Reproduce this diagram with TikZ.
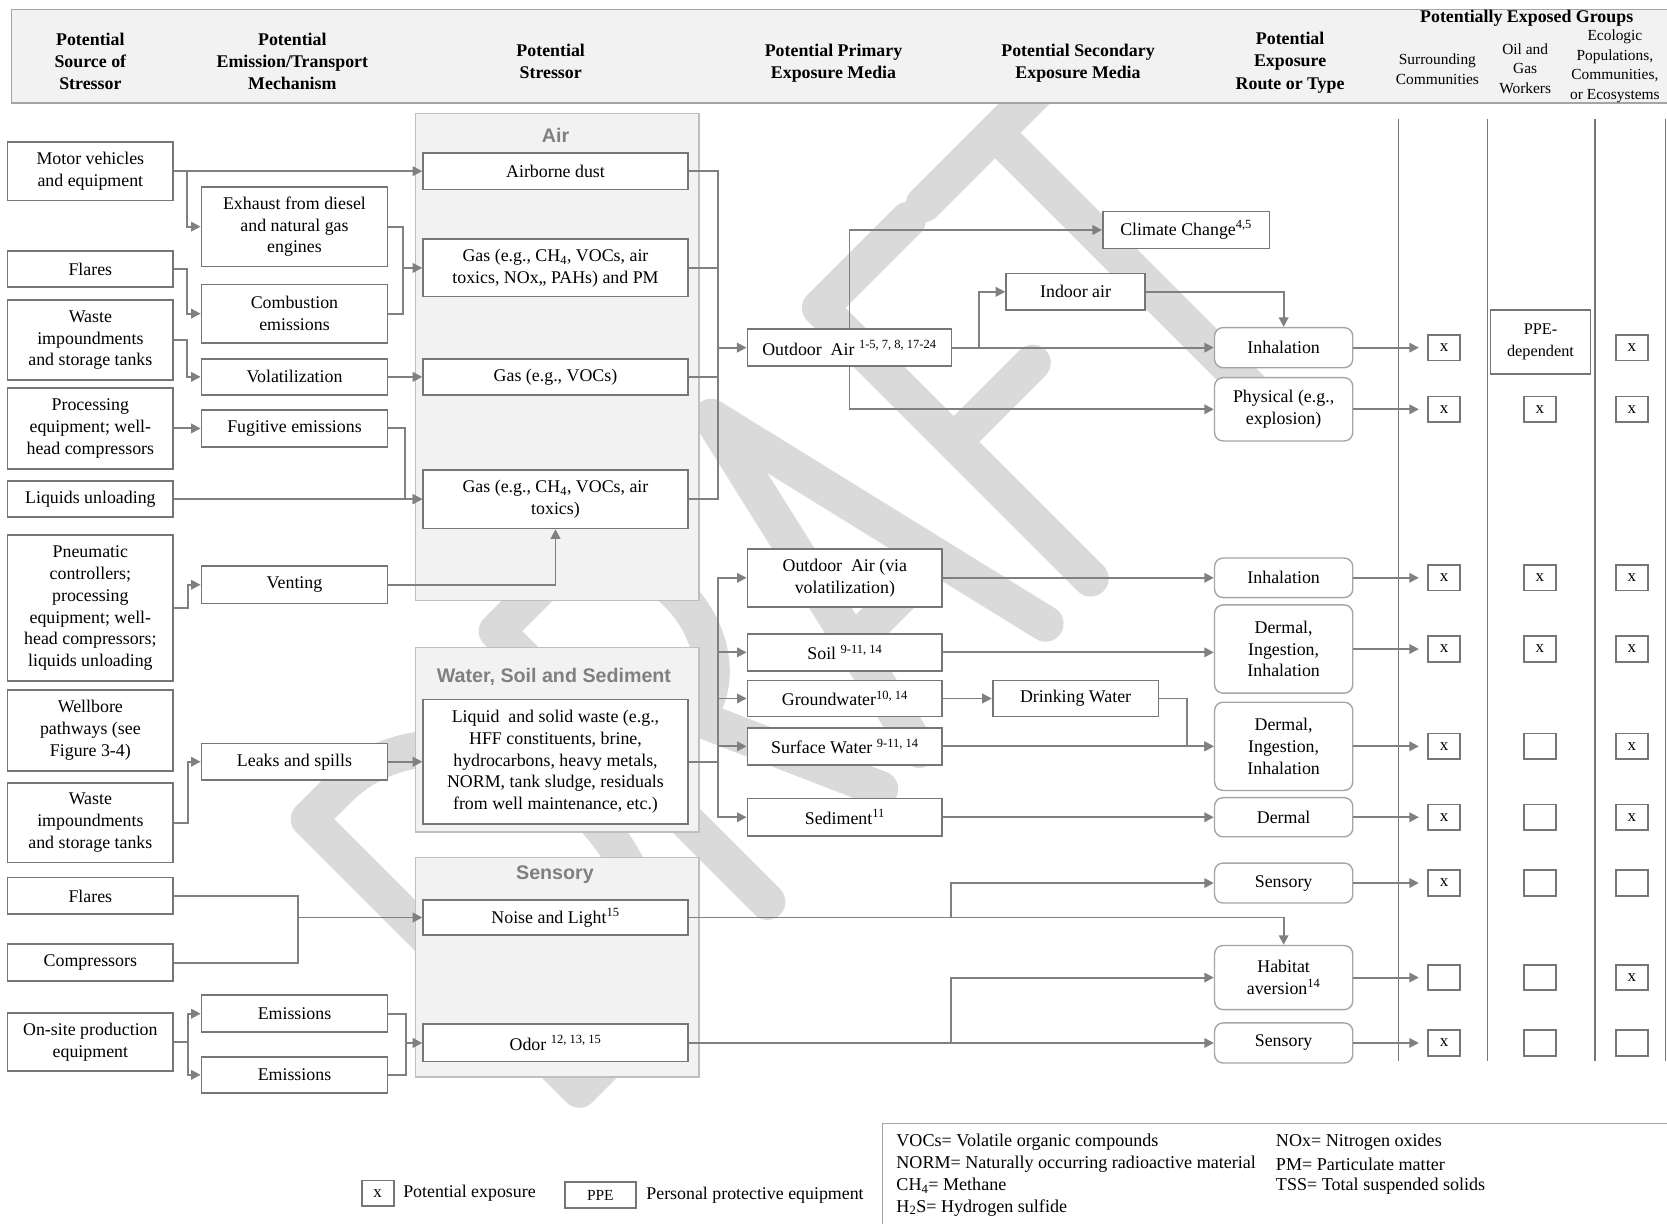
\documentclass[tikz,border=0pt]{standalone}
\usepackage{fontspec}
\setmainfont{Liberation Serif}
\newfontfamily\titlefont{Liberation Sans}
\usetikzlibrary{arrows.meta,positioning,calc}
\definecolor{linegray}{RGB}{128,128,128}
\definecolor{boxgray}{RGB}{118,118,118}
\definecolor{roundgray}{RGB}{165,165,165}
\definecolor{panelfill}{RGB}{242,242,242}
\definecolor{panelline}{RGB}{191,191,191}
\definecolor{wmark}{RGB}{218,218,218}
\newcommand{\bodysize}{\fontsize{16.8}{20.5}\selectfont}
\newcommand{\smallsize}{\fontsize{14.5}{18.3}\selectfont}
\newcommand{\sups}[1]{\textsuperscript{#1}}

\begin{document}
\begin{tikzpicture}[x=1pt,y=-1pt,
  box/.style={draw=boxgray,line width=1.6pt,fill=white,align=center,inner sep=0pt,font=\bodysize},
  src/.style={box,minimum width=156,minimum height=#1},
  mech/.style={box,minimum width=175,minimum height=#1},
  stress/.style={box,minimum width=249,minimum height=#1},
  prim/.style={box,minimum width=183.3,minimum height=#1},
  route/.style={box,draw=roundgray,line width=1.3pt,rounded corners=8pt,minimum width=130,minimum height=#1},
  xbox/.style={box,minimum width=30,minimum height=24,font=\fontsize{16}{18}\selectfont},
  panel/.style={draw=panelline,line width=1pt,fill=panelfill,inner sep=0pt},
  ptitle/.style={font=\titlefont\bfseries\fontsize{18.5}{22}\selectfont,text=linegray},
  head/.style={align=center,font=\bfseries\fontsize{16.8}{20.7}\selectfont},
  grouptext/.style={align=center,font=\smallsize},
  abbr/.style={anchor=west,inner sep=0pt,font=\fontsize{17}{20}\selectfont},
  link/.style={draw=linegray,line width=1.8pt},
  conn/.style={link,-{Triangle[length=9pt,width=9pt]}},
  wm/.style={draw=wmark,line width=34pt,line cap=round,line join=round}
]
\useasboundingbox (0,0) rectangle (1568,1151);

\begin{scope}[shift={(545,1025)},x={(0.7071pt,0.7071pt)},y={(-0.7071pt,0.7071pt)}]
  \draw[wm] (0,0) -- (0,360) -- (40,360) arc[start angle=90,end angle=-90,x radius=150,y radius=180] -- cycle;
  \draw[wm] (250,0) -- (250,360) -- (320,360) arc[start angle=90,end angle=-90,x radius=75,y radius=95] -- (250,170);
  \draw[wm] (325,170) -- (400,0);
  \draw[wm] (452,0) -- (535,360) -- (620,0);
  \draw[wm] (480,115) -- (592,115);
  \draw[wm] (797,360) -- (680,360) -- (680,0);
  \draw[wm] (680,182) -- (785,182);
  \draw[wm] (818,360) -- (1018,360);
  \draw[wm] (913,360) -- (913,8);
\end{scope}

\draw[fill=panelfill,draw=roundgray,line width=1.2pt] (11,9) rectangle (1590,97);
\node[head] (hsrc) at (85,58) {Potential\\Source of\\Stressor};
\node[head] (hemis) at (275,58) {Potential\\Emission/Transport\\Mechanism};
\node[head] (hstress) at (518,57.5) {Potential\\Stressor};
\node[head] (hprim) at (784,59.5) {Potential Primary\\Exposure Media};
\node[head] (hsec) at (1014,59.5) {Potential Secondary\\Exposure Media};
\node[head] (hroute) at (1213.5,59) {Potential\\Exposure\\Route or Type};
\node[head] (hgroups) at (1436,17) {Potentially Exposed Groups};
\node[grouptext] (hcomm) at (1352,65.2) {Surrounding\\Communities};
\node[grouptext] (hwork) at (1434.6,64.5) {Oil and\\Gas\\Workers};
\node[grouptext] (heco) at (1519,62.3) {Ecologic\\Populations,\\Communities,\\or Ecosystems};

\foreach \gx in {1315.5,1399,1500.2,1566.5}
  \draw[draw=boxgray,line width=1.3pt] (\gx,112) -- (\gx,998);

\node[panel,minimum width=267,minimum height=457.8] (airpanel) at (524,335.5) {};
\node[panel,minimum width=267,minimum height=173.9] (waterpanel) at (524,695.6) {};
\node[panel,minimum width=267,minimum height=206] (senspanel) at (524,910) {};
\node[ptitle] (airtitle) at (522.6,127) {Air};
\node[ptitle] (watertitle) at (521,636.5) {Water, Soil and Sediment};
\node[ptitle] (senstitle) at (522,823) {Sensory};

\node[src=55] (motor) at (85,161) {Motor vehicles\\and equipment};
\node[src=34] (flares) at (85,253) {Flares};
\node[src=75] (waste) at (85,320) {Waste\\impoundments\\and storage tanks};
\node[src=76] (proc) at (85,403) {Processing\\equipment; well-\\head compressors};
\node[src=34] (liq) at (85,469.5) {Liquids unloading};
\node[src=137] (pneu) at (85,572) {Pneumatic\\controllers;\\processing\\equipment; well-\\head compressors;\\liquids unloading};
\node[src=76] (well) at (85,687) {Wellbore\\pathways (see\\Figure 3-4)};
\node[src=75] (waste2) at (85,773.7) {Waste\\impoundments\\and storage tanks};
\node[src=34.5] (flares2) at (85,842.7) {Flares};
\node[src=35] (compr) at (85,905.5) {Compressors};
\node[src=55] (onsite) at (85,980) {On-site production\\equipment};

\node[mech=75] (exhaust) at (277,213.2) {Exhaust from diesel\\and natural gas\\engines};
\node[mech=55] (comb) at (277,295) {Combustion\\emissions};
\node[mech=34] (volat) at (277,354.5) {Volatilization};
\node[mech=34.5] (fugit) at (277,403) {Fugitive emissions};
\node[mech=35.5] (vent) at (277,550) {Venting};
\node[mech=34.5] (leaks) at (277,716.5) {Leaks and spills};
\node[mech=35] (em1) at (277,953.5) {Emissions};
\node[mech=34] (em2) at (277,1011) {Emissions};

\node[stress=34.7] (dust) at (522.5,161) {Airborne dust};
\node[stress=54] (gaspm) at (522.5,252) {Gas (e.g., CH\textsubscript{4}, VOCs, air\\toxics, NOx,, PAHs) and PM};
\node[stress=33.5] (gasvoc) at (522.5,354.5) {Gas (e.g., VOCs)};
\node[stress=55] (gastox) at (522.5,469.5) {Gas (e.g., CH\textsubscript{4}, VOCs, air\\toxics)};
\node[stress=117] (liquid) at (522.5,716.5) {Liquid~ and solid waste (e.g.,\\HFF constituents, brine,\\hydrocarbons, heavy metals,\\NORM, tank sludge, residuals\\from well maintenance, etc.)};
\node[stress=33.5] (noise) at (522.5,863) {Noise and Light\sups{15}};
\node[stress=35] (odor) at (522.5,981) {Odor \sups{12, 13, 15}};

\node[box,minimum width=192,minimum height=34.6] (outdoor) at (799,327) {Outdoor~ Air \sups{1-5, 7, 8, 17-24}};
\node[prim=54.4] (outvia) at (794.7,543.5) {Outdoor~ Air (via\\volatilization)};
\node[prim=35] (soil) at (794.7,613.6) {Soil \sups{9-11, 14}};
\node[prim=33.6] (gw) at (794.7,657) {Groundwater\sups{10, 14}};
\node[prim=35] (sw) at (794.7,702) {Surface Water \sups{9-11, 14}};
\node[prim=35] (sed) at (794.7,768.7) {Sediment\sups{11}};

\node[box,minimum width=156.7,minimum height=34.6] (climate) at (1115.7,216.3) {Climate Change\sups{4,5}};
\node[box,minimum width=130.7,minimum height=34.6] (indoor) at (1011.7,274.5) {Indoor air};
\node[box,minimum width=156,minimum height=33.6] (dw) at (1011.7,657) {Drinking Water};

\node[route=37.7] (inh1) at (1207.4,327) {Inhalation};
\node[route=59.5] (phys) at (1207.4,385) {Physical (e.g.,\\explosion)};
\node[route=37.2] (inh2) at (1207.4,543.5) {Inhalation};
\node[route=83] (dii1) at (1207.4,610.5) {Dermal,\\Ingestion,\\Inhalation};
\node[route=83] (dii2) at (1207.4,702) {Dermal,\\Ingestion,\\Inhalation};
\node[route=36.8] (derm) at (1207.4,768.7) {Dermal};
\node[route=37.6] (sens1) at (1207.4,830.6) {Sensory};
\node[route=60.3] (hab) at (1207.4,919.5) {Habitat\\aversion\sups{14}};
\node[route=37.7] (sens2) at (1207.4,981) {Sensory};

\foreach \r/\ry/\m in {a/327/x,b/385/x,c/543.5/x,d/610.5/x,e/702/x,f/768.7/x,g/830.6/x,h/919.5/{},i/981/x}
  \node[xbox] (c1\r) at (1358.4,\ry) {\m};
\foreach \r/\ry/\m in {b/385/x,c/543.5/x,d/610.5/x,e/702/{},f/768.7/{},g/830.6/{},h/919.5/{},i/981/{}}
  \node[xbox] (c2\r) at (1448.5,\ry) {\m};
\foreach \r/\ry/\m in {a/327/x,b/385/x,c/543.5/x,d/610.5/x,e/702/x,f/768.7/x,g/830.6/{},h/919.5/x,i/981/{}}
  \node[xbox] (c3\r) at (1535,\ry) {\m};
\node[box,minimum width=94.3,minimum height=60.2,font=\fontsize{15.3}{20}\selectfont] (ppe) at (1449,321.7) {PPE-\\dependent};

\coordinate (ecj) at (379,252);
\coordinate (fcj) at (280,863);
\coordinate (emj) at (382,981);
\coordinate (airbus) at (675,327);
\coordinate (wbus) at (675,716.5);

\draw[conn] (motor.east) -- (dust.west);
\draw[conn] (motor.east) -- ++(12,0) |- (exhaust.west);
\draw[conn] (flares.east) -- ++(12,0) |- (comb.west);
\draw[conn] (waste.east) -- ++(12,0) |- (volat.west);
\draw[conn] (proc.east) -- (fugit.west);
\draw[conn] (liq.east) -- (gastox.west);
\draw[conn] (pneu.east) -- ++(13,0) |- (vent.west);
\draw[conn] (waste2.east) -- ++(13,0) |- (leaks.west);
\draw[link] (flares2.east) -| (fcj) |- (compr.east);
\draw[conn] (fcj) -- (noise.west);
\draw[conn] (onsite.east) -- ++(13,0) |- (em1.west);
\draw[conn] (onsite.east) -- ++(13,0) |- (em2.west);
\draw[link] (em1.east) -| (emj) |- (em2.east);
\draw[conn] (emj) -- (odor.west);
\draw[link] (exhaust.east) -| (ecj) |- (comb.east);
\draw[conn] (ecj) -- (gaspm.west);
\draw[conn] (volat.east) -- (gasvoc.west);
\draw[conn] (fugit.east) -- ++(16,0) |- (gastox.west);
\draw[conn] (vent.east) -| (gastox.south);
\draw[conn] (leaks.east) -- (liquid.west);

\draw[link] (dust.east) -| (airbus);
\draw[link] (gastox.east) -| (airbus);
\draw[link] (gaspm.east) -- (gaspm.east -| airbus);
\draw[link] (gasvoc.east) -- (gasvoc.east -| airbus);
\draw[conn] (airbus) -- (outdoor.west);
\draw[link] (liquid.east) -- (wbus);
\draw[conn] (wbus) |- (outvia.west);
\draw[conn] (wbus) |- (sed.west);
\draw[conn] (soil.west -| wbus) -- (soil.west);
\draw[conn] (gw.west -| wbus) -- (gw.west);
\draw[conn] (sw.west -| wbus) -- (sw.west);

\draw[conn] (outdoor.north) |- (climate.west);
\draw[conn] (outdoor.south) |- (phys.west);
\draw[conn] (outdoor.east) -- (inh1.west);
\draw[conn] (outdoor.east) -- ++(25,0) |- (indoor.west);
\draw[conn] (indoor.east) -| (inh1.north);
\draw[conn] (outvia.east) -- (inh2.west);
\draw[conn] (soil.east) -- (soil.east -| dii1.west);
\draw[conn] (gw.east) -- (dw.west);
\draw[conn] (dw.east) -- ++(26,0) |- (dii2.west);
\draw[conn] (sw.east) -- (dii2.west);
\draw[conn] (sed.east) -- (derm.west);
\draw[conn] (noise.east) -| (hab.north);
\draw[conn] (noise.east) -- ++(247,0) |- (sens1.west);
\draw[conn] (odor.east) -- (sens2.west);
\draw[conn] (odor.east) -- ++(247,0) |- (hab.west);

\foreach \s/\r in {inh1/a,phys/b,inh2/c,dii1/d,dii2/e,derm/f,sens1/g,hab/h,sens2/i}
  \draw[conn,shorten >=8pt] (\s.east) -- (c1\r.west);

\node[xbox] (legx) at (355.3,1122.5) {x};
\node[right=8pt of legx,inner sep=0pt,font=\bodysize] (legxt) {Potential exposure};
\node[box,minimum width=66.6,minimum height=24,font=\fontsize{14.5}{17}\selectfont] (legppe) at (564.7,1124) {PPE};
\node[right=9pt of legppe,inner sep=0pt,font=\bodysize] (legppet) {Personal protective equipment};

\draw[draw=roundgray,line width=1.3pt] (1575,1056.6) -- (829.8,1056.6) -- (829.8,1160);
\node[abbr] (ab1) at (843,1074.5) {VOCs= Volatile organic compounds};
\node[abbr] (ab2) at (843,1095) {NORM= Naturally occurring radioactive material};
\node[abbr] (ab3) at (843,1115.5) {CH\textsubscript{4}= Methane};
\node[abbr] (ab4) at (843,1136) {H\textsubscript{2}S= Hydrogen sulfide};
\node[abbr] (ab5) at (1200,1074.5) {NOx= Nitrogen oxides};
\node[abbr] (ab6) at (1200,1095) {PM= Particulate matter};
\node[abbr] (ab7) at (1200,1115.5) {TSS= Total suspended solids};
\end{tikzpicture}
\end{document}
